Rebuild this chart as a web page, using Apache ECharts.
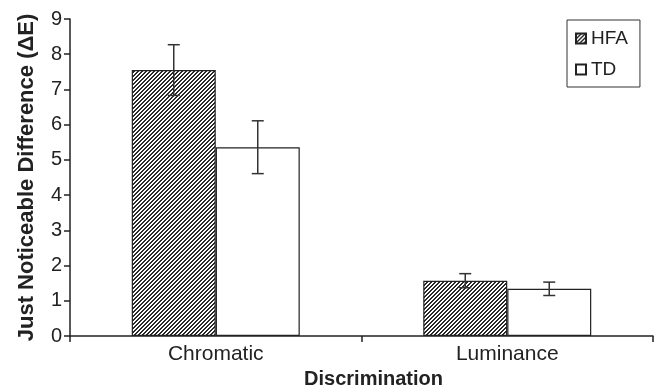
<!DOCTYPE html>
<html>
<head>
<meta charset="utf-8">
<script src="https://cdn.jsdelivr.net/npm/echarts@6/dist/echarts.min.js"></script>
<style>html,body{margin:0;padding:0;background:#fff}#c{width:656px;height:385px}</style>
</head>
<body>
<div id="c"></div>
<script>
var categories = ['Chromatic', 'Luminance'];
var seriesNames = ['HFA', 'TD'];
var hfaValues = [7.55, 1.57];
var tdValues = [5.36, 1.34];
var hfaErrors = [0.72, 0.20];
var tdErrors = [0.75, 0.19];
var yTicks = [0, 1, 2, 3, 4, 5, 6, 7, 8, 9];

var FONT = '"Liberation Sans", Arial, Helvetica, sans-serif';
var BAR_W = 84;

function makeHatch() {
  var c = document.createElement('canvas');
  c.width = 4; c.height = 4;
  var ctx = c.getContext('2d');
  ctx.fillStyle = '#ffffff';
  ctx.fillRect(0, 0, 4, 4);
  ctx.fillStyle = '#2a2a2a';
  for (var x = 0; x < 4; x++) {
    for (var y = 0; y < 4; y++) {
      if ((x + y) % 4 < 2) ctx.fillRect(x, y, 1, 1);
    }
  }
  return c;
}
var hatch = { image: makeHatch(), repeat: 'repeat' };

function errData(vals, errs) {
  return vals.map(function (v, i) { return [i, v - errs[i], v + errs[i]]; });
}

function errRender(offset) {
  return function (params, api) {
    var lo = api.coord([api.value(0), api.value(1)]);
    var hi = api.coord([api.value(0), api.value(2)]);
    var x = lo[0] + offset;
    var cap = 6;
    var st = { stroke: '#333', lineWidth: 1.5 };
    return {
      type: 'group',
      children: [
        { type: 'line', shape: { x1: x, y1: lo[1], x2: x, y2: hi[1] }, style: st },
        { type: 'line', shape: { x1: x - cap, y1: lo[1], x2: x + cap, y2: lo[1] }, style: st },
        { type: 'line', shape: { x1: x - cap, y1: hi[1], x2: x + cap, y2: hi[1] }, style: st }
      ]
    };
  };
}

var chart = echarts.init(document.getElementById('c'), null, { renderer: 'canvas' });
chart.setOption({
  animation: false,
  backgroundColor: '#ffffff',
  textStyle: { fontFamily: FONT },
  grid: { left: 70, right: 3, top: 19, bottom: 49, containLabel: false, outerBoundsMode: 'none' },
  legend: {
    orient: 'vertical',
    left: 567, top: 20,
    padding: [9, 12, 8, 8],
    itemGap: 12,
    itemWidth: 10, itemHeight: 10,
    borderColor: '#333', borderWidth: 1,
    icon: 'rect',
    data: seriesNames,
    textStyle: { fontFamily: FONT, fontSize: 19, color: '#222' }
  },
  xAxis: {
    type: 'category',
    data: categories,
    axisLine: { lineStyle: { color: '#222', width: 1.5 } },
    axisTick: { show: true, length: 6, lineStyle: { color: '#222', width: 1.5 } },
    axisLabel: { fontFamily: FONT, fontSize: 21, color: '#222', margin: 8 },
    name: 'Discrimination',
    nameLocation: 'middle',
    nameGap: 23,
    nameTextStyle: { fontFamily: FONT, fontSize: 20, fontWeight: 'bold', color: '#222', padding: [0, 0, 0, 24] }
  },
  yAxis: {
    type: 'value',
    min: yTicks[0], max: yTicks[yTicks.length - 1], interval: 1,
    splitLine: { show: false },
    axisLine: { show: true, lineStyle: { color: '#222', width: 1.5 } },
    axisTick: { show: true, length: 6, lineStyle: { color: '#222', width: 1.5 } },
    axisLabel: { fontFamily: FONT, fontSize: 20, color: '#222', margin: 8 },
    name: 'Just Noticeable Difference (\u0394E)',
    nameLocation: 'middle',
    nameGap: 32,
    nameTextStyle: { fontFamily: FONT, fontSize: 22, fontWeight: 'bold', color: '#222' }
  },
  series: [
    {
      name: seriesNames[0], type: 'bar', data: hfaValues,
      barWidth: BAR_W, barGap: '0%',
      itemStyle: { color: hatch, borderColor: '#222', borderWidth: 1.2 }
    },
    {
      name: seriesNames[1], type: 'bar', data: tdValues,
      barWidth: BAR_W, barGap: '0%',
      itemStyle: { color: '#ffffff', borderColor: '#222', borderWidth: 1.2 }
    },
    {
      type: 'custom', renderItem: errRender(-BAR_W / 2),
      data: errData(hfaValues, hfaErrors), encode: { x: 0, y: [1, 2] }, z: 5, silent: true
    },
    {
      type: 'custom', renderItem: errRender(BAR_W / 2),
      data: errData(tdValues, tdErrors), encode: { x: 0, y: [1, 2] }, z: 5, silent: true
    }
  ]
});
</script>
</body>
</html>
